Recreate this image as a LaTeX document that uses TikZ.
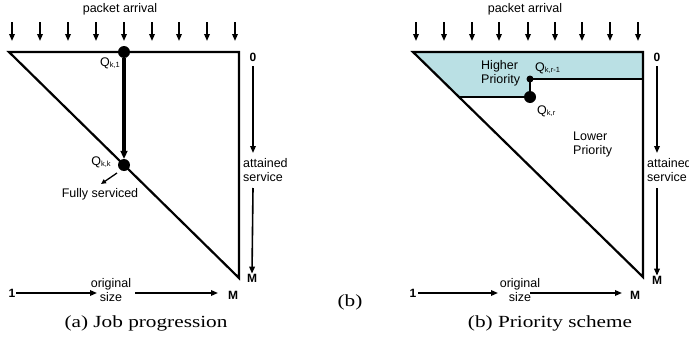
\documentclass[tikz,border=0pt]{standalone}
\usepackage{fontspec}
\setmainfont{Liberation Sans}
\newfontfamily\capfont[FakeStretch=1.25]{Liberation Serif}
\usetikzlibrary{arrows.meta}
\definecolor{hiprio}{RGB}{186,224,228}
\newcommand{\Qsub}[1]{Q\raisebox{-0.15ex}{\fontsize{7.5}{8}\selectfont #1}}
\tikzset{
  lbl/.style={font=\fontsize{12.5}{14}\selectfont, inner sep=0pt},
  boldlbl/.style={font=\fontsize{12}{14}\selectfont\bfseries, inner sep=0pt},
  captext/.style={font=\fontsize{17}{20}\selectfont\capfont, inner sep=0pt},
  arr/.style={-{Triangle[length=7pt,width=5.5pt]}, line width=1.6pt},
  thickarr/.style={-{Triangle[length=8pt,width=7pt]}, line width=3.2pt},
  edge/.style={line width=2.2pt},
  bigdot/.style={circle, fill=black, minimum size=12pt, inner sep=0pt},
  smalldot/.style={circle, fill=black, minimum size=7pt, inner sep=0pt},
}
\begin{document}
\begin{tikzpicture}[x=1pt,y=-1pt]
\useasboundingbox (0,0) rectangle (689,343);

% ================= left panel =================
\node[lbl] (aPA) at (120,9) {packet arrival};
\foreach \i/\x in {1/12,2/40,3/68,4/96,5/124,6/152,7/179,8/207,9/235}{
  \coordinate (aA\i s) at (\x,22);
  \coordinate (aA\i e) at (\x,41);
  \draw[arr] (aA\i s) -- (aA\i e);
}
\coordinate (aTL) at (9,52);
\coordinate (aTR) at (239,52);
\coordinate (aBR) at (239,278);
\draw[edge] (aTL) -- (aTR) -- (aBR) -- cycle;
\node[bigdot] (aQ1) at (124,52) {};
\node[bigdot] (aQk) at (124,165) {};
\draw[thickarr] (aQ1.south) -- (aQk.north);
\node[lbl] (aQ1l) at (110,63) {\Qsub{k,1}};
\node[lbl] (aQkl) at (101,162) {\Qsub{k,k}};
\coordinate (aFSs) at (117,173);
\coordinate (aFSe) at (101,184);
\draw[-{Triangle[length=5pt,width=4.5pt]}, line width=1.3pt] (aFSs) -- (aFSe);
\node[lbl] (aFS) at (100,194) {Fully serviced};
% attained service
\node[boldlbl] (a0) at (253,57) {0};
\node[lbl, align=left, anchor=west] (aAS) at (243,170) {attained\\service};
\coordinate (aASs) at (253,66);
\coordinate (aASe) at (253,153);
\draw[arr] (aASs) -- (aASe);
\coordinate (aAS2s) at (253,188);
\node[boldlbl] (aMr) at (252,278) {M};
\draw[arr] (aAS2s) -- (aMr.north);
% original size
\node[boldlbl] (a1) at (12,293) {1};
\node[lbl, align=center] (aOS) at (111,290) {original\\size};
\node[boldlbl] (aMb) at (233,295) {M};
\coordinate (a1e) at (16,293);
\coordinate (aOSw) at (97,293);
\coordinate (aOSe) at (135,293);
\coordinate (aMbw) at (218,293);
\draw[arr] (a1e) -- (aOSw);
\draw[arr] (aOSe) -- (aMbw);
\node[captext] (aCap) at (146,323) {(a) Job progression};

\node[captext] (bMid) at (350,302) {(b)};

% ================= right panel =================
\node[lbl] (bPA) at (525,9) {packet arrival};
\foreach \i/\x in {1/416,2/444,3/472,4/499,5/528,6/555,7/582,8/610,9/638}{
  \coordinate (bA\i s) at (\x,22);
  \coordinate (bA\i e) at (\x,41);
  \draw[arr] (bA\i s) -- (bA\i e);
}
\coordinate (bTL) at (413,52);
\coordinate (bTR) at (643,52);
\coordinate (bBR) at (643,277);
\coordinate (bIR) at (643,79);
\coordinate (bIL) at (459,97);
\fill[hiprio] (bTL) -- (bTR) -- (bIR) -- (530,79) -- (530,97) -- (bIL) -- cycle;
\draw[edge] (bTL) -- (bTR) -- (bBR) -- cycle;
\node[smalldot] (bQr1) at (530,79) {};
\node[bigdot] (bQr) at (530,97) {};
\draw[edge] (bQr1.center) -- (bIR);
\draw[edge] (bQr1.center) -- (bQr.center);
\draw[edge] (bQr.center) -- (bIL);
\node[lbl, align=left, anchor=west] (bHP) at (481,73) {Higher\\Priority};
\node[lbl, anchor=west] (bQr1l) at (535,68) {\Qsub{k,r-1}};
\node[lbl, anchor=west] (bQrl) at (537,111) {\Qsub{k,r}};
\node[lbl, align=left, anchor=west] (bLP) at (573,144) {Lower\\Priority};
% attained service
\node[boldlbl] (b0) at (657,57) {0};
\node[lbl, align=left, anchor=west] (bAS) at (647,170) {attained\\service};
\coordinate (bASs) at (657,66);
\coordinate (bASe) at (657,153);
\draw[arr] (bASs) -- (bASe);
\coordinate (bAS2s) at (657,188);
\node[boldlbl] (bMr) at (657,280) {M};
\draw[arr] (bAS2s) -- (bMr.north);
% original size
\node[boldlbl] (b1) at (413,293) {1};
\node[lbl, align=center] (bOS) at (520,290) {original\\size};
\node[boldlbl] (bMb) at (635,295) {M};
\coordinate (b1e) at (418,293);
\coordinate (bOSw) at (498,293);
\coordinate (bOSe) at (530,293);
\coordinate (bMbw) at (622,293);
\draw[arr] (b1e) -- (bOSw);
\draw[arr] (bOSe) -- (bMbw);
\node[captext] (bCap) at (550,323) {(b) Priority scheme};
\end{tikzpicture}
\end{document}
